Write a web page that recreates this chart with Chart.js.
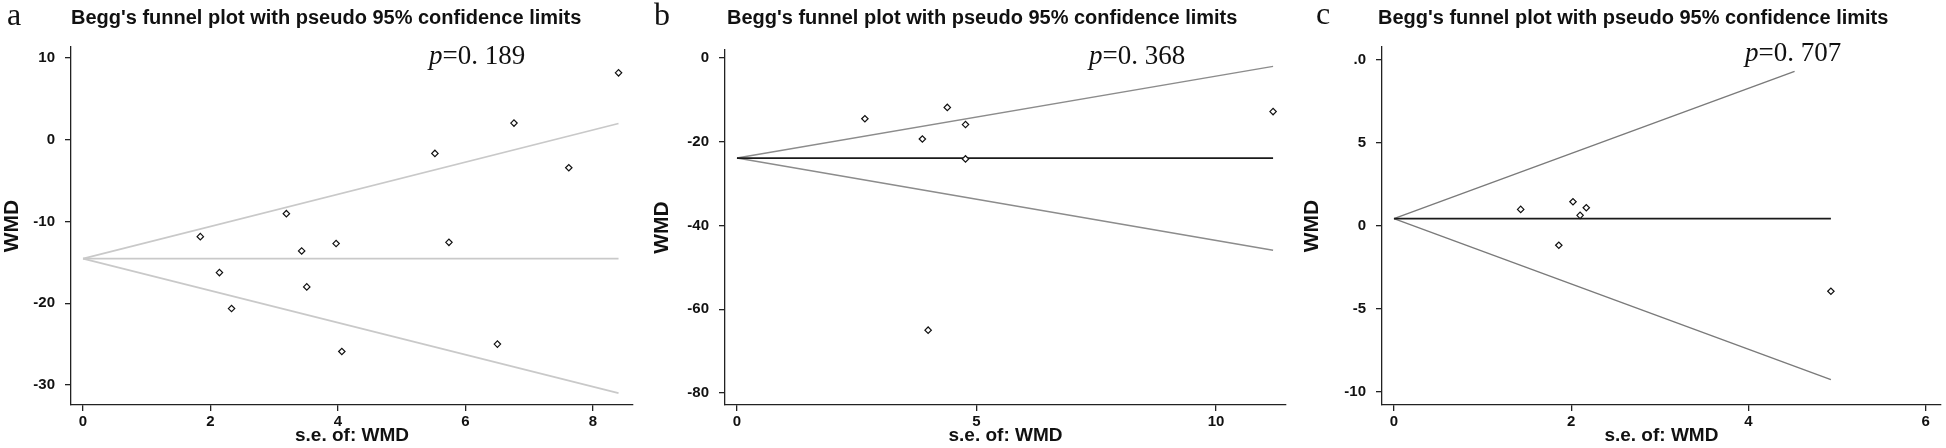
<!DOCTYPE html>
<html>
<head>
<meta charset="utf-8">
<script src="https://cdn.jsdelivr.net/npm/chart.js@4.4.1/dist/chart.umd.min.js"></script>
<style>
  html, body { margin: 0; padding: 0; background: #fff; }
  #wrap { position: relative; width: 1946px; height: 448px; }
  canvas { position: absolute; top: 0; }
</style>
</head>
<body>
<div id="wrap">
  <canvas id="chartA" width="650" height="448" style="left:0px"></canvas>
  <canvas id="chartB" width="650" height="448" style="left:650px"></canvas>
  <canvas id="chartC" width="646" height="448" style="left:1300px"></canvas>
</div>
<script>
// ---- panel a data ----
var seA = [1.84, 2.14, 2.33, 3.19, 3.43, 3.51, 3.97, 4.06, 5.52, 5.74, 6.50, 6.76, 7.62, 8.40];
var wmdA = [-11.85, -16.25, -20.65, -9.04, -13.6, -18.0, -12.7, -25.9, -1.67, -12.55, -25.0, 2.04, -3.42, 8.19];
var funnelSeA = [0, 8.4];
var upperA = [-14.54, 2.0];
var lowerA = [-14.54, -31.0];
var centerA = [-14.54, -14.54];
var xTicksA = [0, 2, 4, 6, 8];
var yTicksA = [10, 0, -10, -20, -30];
var yLabelsA = ["10", "0", "-10", "-20", "-30"];

// ---- panel b data ----
var seB = [2.67, 3.87, 3.99, 4.39, 4.77, 4.77, 11.19];
var wmdB = [-14.5, -19.35, -65.0, -11.8, -15.9, -24.1, -12.8];
var funnelSeB = [0, 11.19];
var upperB = [-23.9, -2.0];
var lowerB = [-23.9, -45.9];
var centerB = [-23.9, -23.9];
var xTicksB = [0, 5, 10];
var yTicksB = [0, -20, -40, -60, -80];
var yLabelsB = ["0", "-20", "-40", "-60", "-80"];

// ---- panel c data ----
var seC = [1.43, 1.86, 2.02, 2.10, 2.17, 4.93];
var wmdC = [1.0, -1.16, 1.46, 0.64, 1.10, -3.93];
var upperSeC = [0, 4.52];
var upperC = [0.44, 9.31];
var funnelSeC = [0, 4.93];
var lowerC = [0.44, -9.25];
var centerC = [0.44, 0.44];
var xTicksC = [0, 2, 4, 6];
var yTicksC = [10, 5, 0, -5, -10];
var yLabelsC = [".0", "5", "0", "-5", "-10"];

var titleText = "Begg's funnel plot with pseudo 95% confidence limits";
var sans = '"Liberation Sans", Arial, sans-serif';
var serif = '"Liberation Serif", "Times New Roman", serif';

function pts(xs, ys) {
    return xs.map(function (x, i) { return {x: x, y: ys[i]}; });
}

// letters, titles and p-values drawn on top
var panelText = {
    id: 'panelText',
    afterDraw: function (chart, args, o) {
        var ctx = chart.ctx;
        ctx.save();
        ctx.fillStyle = '#111';
        ctx.textBaseline = 'alphabetic';
        ctx.font = '32px ' + serif;
        ctx.fillText(o.letter, o.letterX, o.letterY);
        ctx.font = 'bold 20px ' + sans;
        ctx.fillText(titleText, o.titleX, 24);
        ctx.font = 'italic 27px ' + serif;
        ctx.fillText('p', o.pX, o.pY);
        var w = ctx.measureText('p').width;
        ctx.font = '27px ' + serif;
        ctx.fillText(o.pText, o.pX + w, o.pY);
        ctx.restore();
    }
};

function makePanel(id, p) {
    var lineSets = p.lines.map(function (l) {
        return {
            data: l.data, showLine: true, pointRadius: 0, borderColor: l.color,
            borderWidth: l.width, fill: false, order: 2
        };
    });
    var datasets = [{
        data: p.points, pointStyle: 'rectRot', pointRadius: 3.2,
        pointBorderColor: '#111', pointBackgroundColor: '#fff', pointBorderWidth: 1.2,
        showLine: false, order: 1
    }].concat(lineSets);

    return new Chart(document.getElementById(id), {
        type: 'scatter',
        data: {datasets: datasets},
        plugins: [panelText],
        options: {
            responsive: false,
            animation: false,
            devicePixelRatio: 1,
            layout: {padding: {top: p.padTop, right: p.padRight, left: 0, bottom: 0}},
            plugins: {
                legend: {display: false},
                tooltip: {enabled: false},
                panelText: p.text
            },
            scales: {
                x: {
                    type: 'linear', min: p.xMin, max: p.xMax,
                    afterBuildTicks: function (s) { s.ticks = p.xTicks.map(function (v) { return {value: v}; }); },
                    afterFit: function (s) { s.height = 43; },
                    grid: {drawOnChartArea: false, drawTicks: true, tickLength: 6, color: '#222', lineWidth: 1.3},
                    border: {display: true, color: '#222', width: 1.3},
                    ticks: {color: '#111', font: {family: sans, size: 15, weight: 'bold'}, padding: 2, maxRotation: 0, autoSkip: false},
                    title: {display: true, text: 's.e. of: WMD', color: '#111', font: {family: sans, size: 19, weight: 'bold'}, padding: {top: 0, bottom: 1}}
                },
                y: {
                    type: 'linear', min: p.yMin, max: p.yMax,
                    afterBuildTicks: function (s) { s.ticks = p.yTicks.map(function (v) { return {value: v}; }); },
                    afterFit: function (s) { s.width = p.yWidth; },
                    grid: {drawOnChartArea: false, drawTicks: true, tickLength: 6, color: '#222', lineWidth: 1.3},
                    border: {display: true, color: '#222', width: 1.3},
                    ticks: {
                        color: '#111', font: {family: sans, size: 15, weight: 'bold'}, padding: 10, autoSkip: false,
                        callback: function (v) { return p.yLabels[p.yTicks.indexOf(v)]; }
                    },
                    title: {display: true, text: 'WMD', color: '#111', font: {family: sans, size: 21, weight: 'bold'}, padding: {top: 0, bottom: 0}}
                }
            }
        }
    });
}

makePanel('chartA', {
    points: pts(seA, wmdA),
    lines: [
        {data: pts(funnelSeA, centerA), color: '#c9c9c9', width: 1.6},
        {data: pts(funnelSeA, upperA), color: '#c9c9c9', width: 1.6},
        {data: pts(funnelSeA, lowerA), color: '#c9c9c9', width: 1.6}
    ],
    xMin: -0.188, xMax: 8.627, yMin: -32.45, yMax: 11.35,
    xTicks: xTicksA, yTicks: yTicksA, yLabels: yLabelsA,
    yWidth: 71, padTop: 47, padRight: 17,
    text: {letter: 'a', letterX: 7, letterY: 25, titleX: 71, pX: 429, pY: 64, pText: '=0. 189'}
});

makePanel('chartB', {
    points: pts(seB, wmdB),
    lines: [
        {data: pts(funnelSeB, centerB), color: '#1a1a1a', width: 1.8},
        {data: pts(funnelSeB, upperB), color: '#8c8c8c', width: 1.5},
        {data: pts(funnelSeB, lowerB), color: '#8c8c8c', width: 1.5}
    ],
    xMin: -0.25, xMax: 11.46, yMin: -82.87, yMax: 1.91,
    xTicks: xTicksB, yTicks: yTicksB, yLabels: yLabelsB,
    yWidth: 75, padTop: 50, padRight: 14,
    text: {letter: 'b', letterX: 4, letterY: 25, titleX: 77, pX: 439, pY: 64, pText: '=0. 368'}
});

makePanel('chartC', {
    points: pts(seC, wmdC),
    lines: [
        {data: pts(funnelSeC, centerC), color: '#1a1a1a', width: 1.8},
        {data: pts(upperSeC, upperC), color: '#7a7a7a', width: 1.4},
        {data: pts(funnelSeC, lowerC), color: '#7a7a7a', width: 1.4}
    ],
    xMin: -0.135, xMax: 6.17, yMin: -10.78, yMax: 10.78,
    xTicks: xTicksC, yTicks: yTicksC, yLabels: yLabelsC,
    yWidth: 82, padTop: 47, padRight: 3,
    text: {letter: 'c', letterX: 16, letterY: 24, titleX: 78, pX: 445, pY: 61, pText: '=0. 707'}
});
</script>
</body>
</html>
